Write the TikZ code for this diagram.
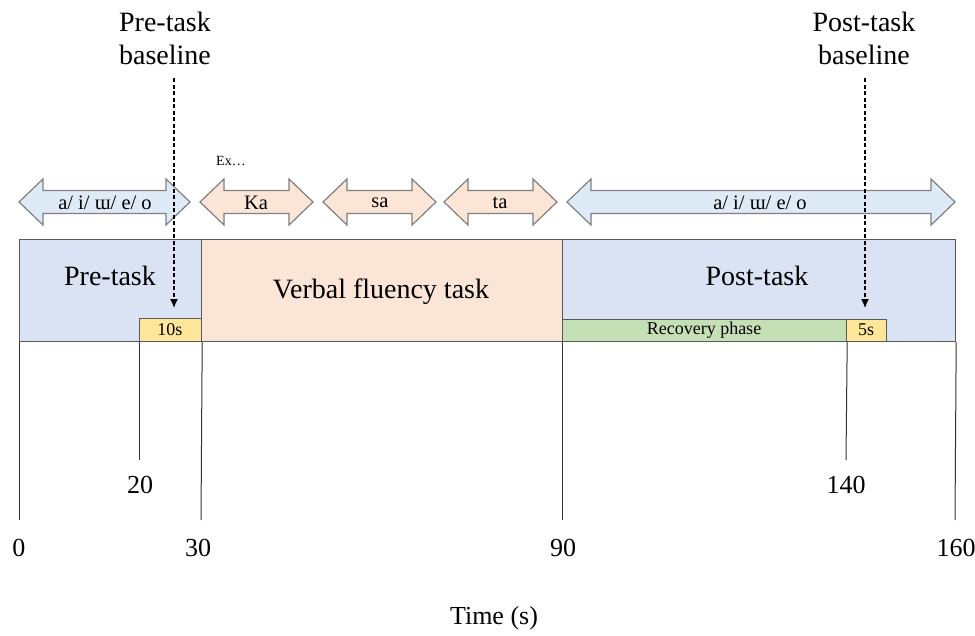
\documentclass[tikz,border=0pt]{standalone}
\usepackage{fontspec}
\setmainfont{Liberation Serif}
\usetikzlibrary{arrows.meta}
\definecolor{boxblue}{HTML}{DAE3F3}
\definecolor{arrblue}{HTML}{DEEBF7}
\definecolor{peach}{HTML}{FBE5D6}
\definecolor{recgreen}{HTML}{C5E0B4}
\definecolor{tenyellow}{HTML}{FFE699}
\definecolor{outl}{HTML}{595959}
\definecolor{arrgray}{HTML}{808080}
\tikzset{
  phasebox/.style={draw=outl, line width=1.2pt, anchor=north west, inner sep=0pt},
  arrowshape/.style={draw=arrgray, line width=1.2pt, line join=miter},
  tick/.style={draw=black!80, line width=1pt},
  biglbl/.style={font=\fontsize{28}{33}\selectfont, inner sep=0pt},
  arrlbl/.style={font=\fontsize{20.5}{24}\selectfont, inner sep=0pt},
  smalllbl/.style={font=\fontsize{18}{21}\selectfont, inner sep=0pt},
  numlbl/.style={font=\fontsize{26}{30}\selectfont, inner sep=0pt},
  baselinearrow/.style={line width=1.3pt, dash pattern=on 4pt off 2.5pt, -{Latex[length=9pt,width=8pt]}}
}
\newcommand{\dblarr}[3]{%
  \draw[arrowshape, fill=#3] (#1,202) -- ({#1+24},179) -- ({#1+24},190.5) -- ({#2-24},190.5) -- ({#2-24},179) -- (#2,202) -- ({#2-24},225) -- ({#2-24},213.5) -- ({#1+24},213.5) -- ({#1+24},225) -- cycle;}
\begin{document}
\begin{tikzpicture}[x=1pt, y=-1pt]
\useasboundingbox (0,0) rectangle (975,635);

% phase boxes
\node[phasebox, fill=boxblue, minimum width=182pt, minimum height=102pt] (pre) at (19,239) {};
\node[phasebox, fill=peach, minimum width=361pt, minimum height=102pt] (vft) at (201,239) {};
\node[phasebox, fill=boxblue, minimum width=393pt, minimum height=102pt] (post) at (562,239) {};
\node[phasebox, fill=tenyellow, minimum width=62pt, minimum height=23pt] (ten) at (139,318) {};
\node[phasebox, fill=recgreen, minimum width=284pt, minimum height=22pt] (rec) at (562,319) {};
\node[phasebox, fill=tenyellow, minimum width=40pt, minimum height=22pt] (five) at (846,319) {};

\node[biglbl] (pretxt) at (110,276) {Pre-task};
\node[biglbl] (vfttxt) at (381,292) {Verbal fluency task};
\node[biglbl] (posttxt) at (757,276) {Post-task};
\node[smalllbl] (tentxt) at (170,330) {10s};
\node[smalllbl] (rectxt) at (704,330) {Recovery phase};
\node[smalllbl] (fivetxt) at (866,330) {5s};

% double arrows
\dblarr{19}{190}{arrblue}
\dblarr{200}{313}{peach}
\dblarr{323}{436}{peach}
\dblarr{444}{557}{peach}
\dblarr{567}{955}{arrblue}
\node[arrlbl] (a1) at (105,203) {a/ i/ ɯ/ e/ o};
\node[arrlbl] (ka) at (256,203) {Ka};
\node[arrlbl] (sa) at (380,203) {sa};
\node[arrlbl] (ta) at (500,203) {ta};
\node[arrlbl] (a2) at (760,203) {a/ i/ ɯ/ e/ o};
\node[font=\fontsize{14}{16}\selectfont, inner sep=0pt] (ex) at (231,161) {Ex…};

% baselines
\node[biglbl, align=center] (prebl) at (165,38) {Pre-task\\baseline};
\node[biglbl, align=center] (postbl) at (864,38) {Post-task\\baseline};
\coordinate (pretop) at (174,78);
\coordinate (pretip) at (174,308);
\coordinate (posttop) at (865,78);
\coordinate (posttip) at (865,308);
\draw[baselinearrow] (pretop) -- (pretip);
\draw[baselinearrow] (posttop) -- (posttip);

% time lines
\coordinate (t0) at (19,520);
\coordinate (t30) at (201,520);
\coordinate (t90) at (562,520);
\coordinate (t160) at (955,520);
\coordinate (t20) at (139,460);
\coordinate (t140) at (846,460);
\draw[tick] (pre.south west) -- (t0);
\draw[tick] (pre.south east) -- (t30);
\draw[tick] (post.south west) -- (t90);
\draw[tick] (post.south east) -- (t160);
\draw[tick] (ten.south west) -- (t20);
\draw[tick] (rec.south east) -- (t140);

\node[numlbl] (n20) at (140,485) {20};
\node[numlbl] (n140) at (846,485) {140};
\node[numlbl] (n0) at (19,548) {0};
\node[numlbl] (n30) at (198,548) {30};
\node[numlbl] (n90) at (563,548) {90};
\node[numlbl] (n160) at (956,548) {160};
\node[numlbl] (time) at (494,618) {Time (s)};
\end{tikzpicture}
\end{document}
